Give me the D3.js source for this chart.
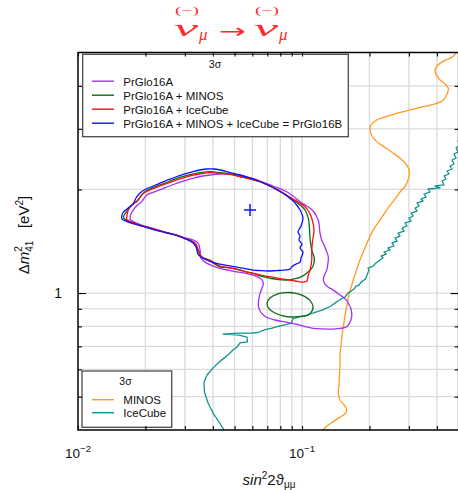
<!DOCTYPE html>
<html><head><meta charset="utf-8">
<script src="https://cdn.jsdelivr.net/npm/d3@7"></script>
<style>body{margin:0;background:#fff}svg{display:block}</style>
</head><body>
<svg id="c" width="458" height="490"></svg>
<script>
// ---------- data ----------
const xGridValues = [0.02,0.03,0.04,0.05,0.06,0.07,0.08,0.09,0.1,0.2,0.3,0.4];
const yGridValues = [0.5,0.6,0.7,0.8,0.9,1,2,3,4];
const xTickLabels = [{v:0.01, base:"10", exp:"−2"},{v:0.1, base:"10", exp:"−1"}];
const yTickLabels = [{v:1, text:"1"}];
const bestFit = [0.0586, 1.743];

const prGlo16A = [[0.01707,1.649],[0.01724,1.697],[0.01766,1.743],[0.01834,1.796],[0.01924,1.843],[0.02026,1.927],[0.02140,1.959],[0.02323,1.993],[0.02522,2.040],[0.02759,2.084],[0.03004,2.123],[0.03272,2.155],[0.03505,2.181],[0.03884,2.203],[0.04305,2.218],[0.04770,2.214],[0.05195,2.203],[0.05861,2.160],[0.06495,2.116],[0.07197,2.061],[0.07814,2.020],[0.08546,1.970],[0.09117,1.914],[0.09797,1.843],[0.1031,1.803],[0.1086,1.763],[0.1131,1.720],[0.1163,1.667],[0.1185,1.619],[0.1195,1.559],[0.1203,1.494],[0.1224,1.426],[0.1254,1.379],[0.1280,1.334],[0.1310,1.275],[0.1306,1.222],[0.1289,1.166],[0.1260,1.128],[0.1245,1.091],[0.1267,1.062],[0.1306,1.041],[0.1379,1.020],[0.1478,0.987],[0.1572,0.957],[0.1610,0.933],[0.1655,0.899],[0.1667,0.853],[0.1638,0.824],[0.1584,0.798],[0.1478,0.789],[0.1379,0.786],[0.1241,0.787],[0.1120,0.790],[0.1021,0.800],[0.09307,0.813],[0.08397,0.824],[0.07577,0.835],[0.06907,0.852],[0.06609,0.873],[0.06427,0.901],[0.06382,0.933],[0.06427,0.967],[0.06495,0.998],[0.06630,1.034],[0.06719,1.067],[0.06630,1.091],[0.06495,1.104],[0.06062,1.128],[0.05566,1.143],[0.05111,1.153],[0.04673,1.166],[0.04305,1.180],[0.03965,1.202],[0.03690,1.230],[0.03541,1.264],[0.03505,1.334],[0.03445,1.395],[0.03272,1.426],[0.03004,1.447],[0.02759,1.474],[0.02446,1.504],[0.02169,1.542],[0.01951,1.571],[0.01766,1.612],[0.01707,1.638]];

const prGlo16AMinos = [[0.01596,1.664],[0.01609,1.686],[0.01655,1.731],[0.01707,1.782],[0.01778,1.827],[0.01858,1.864],[0.01911,1.914],[0.01991,1.970],[0.02140,2.020],[0.02323,2.061],[0.02522,2.102],[0.02759,2.155],[0.03004,2.189],[0.03272,2.218],[0.03505,2.237],[0.03884,2.252],[0.04305,2.237],[0.04770,2.218],[0.05287,2.181],[0.05861,2.145],[0.06495,2.106],[0.07197,2.047],[0.07838,1.993],[0.08483,1.927],[0.09146,1.864],[0.09797,1.803],[0.1031,1.743],[0.1067,1.649],[0.1078,1.559],[0.1086,1.442],[0.1105,1.334],[0.1135,1.261],[0.1116,1.192],[0.1050,1.141],[0.09797,1.111],[0.09146,1.098],[0.08546,1.091],[0.07838,1.094],[0.07197,1.104],[0.06495,1.121],[0.06062,1.141],[0.05566,1.155],[0.05111,1.174],[0.04673,1.186],[0.04305,1.192],[0.03884,1.239],[0.03567,1.273],[0.03445,1.325],[0.03364,1.379],[0.03272,1.407],[0.03004,1.440],[0.02759,1.472],[0.02446,1.502],[0.02169,1.532],[0.01951,1.564],[0.01766,1.598],[0.01655,1.624],[0.01604,1.647]];

const prGlo16AMinosIsland = [[0.06980,0.935],[0.07197,0.967],[0.07735,0.993],[0.08397,1.003],[0.09307,1.000],[0.1021,0.980],[0.1086,0.951],[0.1120,0.917],[0.1108,0.887],[0.1064,0.863],[0.09797,0.855],[0.08932,0.852],[0.08141,0.860],[0.07499,0.878],[0.07125,0.901]];

const prGlo16AIceCube = [[0.01650,1.660],[0.01677,1.743],[0.01742,1.803],[0.01828,1.843],[0.01891,1.901],[0.01957,1.949],[0.02096,1.993],[0.02323,2.047],[0.02522,2.087],[0.02759,2.131],[0.03004,2.167],[0.03272,2.203],[0.03505,2.218],[0.03884,2.237],[0.04305,2.228],[0.04770,2.211],[0.05287,2.178],[0.05861,2.145],[0.06495,2.106],[0.07197,2.047],[0.07838,1.993],[0.08397,1.940],[0.08995,1.885],[0.09696,1.833],[0.1031,1.782],[0.1075,1.720],[0.1105,1.649],[0.1131,1.524],[0.1116,1.426],[0.1105,1.334],[0.1105,1.247],[0.1086,1.166],[0.1064,1.121],[0.1053,1.084],[0.1000,1.076],[0.09307,1.084],[0.08570,1.094],[0.07977,1.102],[0.07445,1.111],[0.06698,1.124],[0.06062,1.141],[0.05566,1.155],[0.05111,1.172],[0.04673,1.186],[0.04305,1.198],[0.03884,1.247],[0.03567,1.275],[0.03445,1.334],[0.03364,1.388],[0.03272,1.410],[0.03004,1.440],[0.02759,1.474],[0.02446,1.504],[0.02169,1.535],[0.01951,1.566],[0.01766,1.601],[0.01650,1.638]];

const prGlo16B = [[0.01567,1.667],[0.01588,1.714],[0.01655,1.755],[0.01760,1.815],[0.01815,1.889],[0.01891,1.953],[0.01991,2.000],[0.02140,2.040],[0.02323,2.087],[0.02522,2.131],[0.02767,2.181],[0.03004,2.218],[0.03262,2.255],[0.03505,2.278],[0.03767,2.293],[0.04047,2.293],[0.04305,2.278],[0.04770,2.240],[0.05287,2.203],[0.05861,2.160],[0.06495,2.109],[0.07197,2.047],[0.07735,1.993],[0.08310,1.940],[0.08842,1.883],[0.09307,1.827],[0.09797,1.743],[0.1010,1.652],[0.09897,1.566],[0.09597,1.504],[0.09797,1.464],[0.09696,1.426],[0.1000,1.388],[0.09797,1.352],[0.1010,1.316],[0.09897,1.264],[0.09797,1.230],[0.09402,1.214],[0.09025,1.194],[0.08842,1.174],[0.08310,1.166],[0.07655,1.162],[0.07052,1.159],[0.06495,1.162],[0.06044,1.166],[0.05566,1.178],[0.05126,1.190],[0.04673,1.202],[0.04305,1.214],[0.03965,1.230],[0.03690,1.255],[0.03541,1.273],[0.03434,1.298],[0.03364,1.361],[0.03262,1.398],[0.03067,1.431],[0.02767,1.469],[0.02446,1.499],[0.02162,1.530],[0.01951,1.561],[0.01760,1.592],[0.01638,1.619],[0.01572,1.641]];

const minos = [[0.5076,5.224],[0.4957,5.086],[0.4722,4.864],[0.4394,4.757],[0.4132,4.653],[0.3966,4.539],[0.3925,4.398],[0.4007,4.274],[0.4132,4.161],[0.4349,4.051],[0.4500,3.936],[0.4440,3.789],[0.4274,3.640],[0.3925,3.543],[0.3479,3.479],[0.3035,3.404],[0.2647,3.330],[0.2347,3.248],[0.2155,3.184],[0.2032,3.078],[0.2012,2.977],[0.2054,2.860],[0.2155,2.754],[0.2347,2.648],[0.2556,2.548],[0.2767,2.452],[0.2934,2.355],[0.3004,2.278],[0.3013,2.203],[0.2958,2.116],[0.2883,2.037],[0.2781,1.993],[0.2647,1.905],[0.2421,1.766],[0.2229,1.630],[0.2075,1.524],[0.1977,1.426],[0.1892,1.334],[0.1815,1.247],[0.1751,1.166],[0.1694,1.091],[0.1626,0.998],[0.1588,0.923],[0.1556,0.863],[0.1529,0.798],[0.1509,0.755],[0.1493,0.706],[0.1478,0.661],[0.1478,0.625],[0.1470,0.578],[0.1463,0.540],[0.1452,0.511],[0.1478,0.489],[0.1540,0.473],[0.1584,0.457],[0.1556,0.446],[0.1478,0.436],[0.1379,0.423],[0.1293,0.411],[0.1241,0.400],[0.1216,0.389]];

const iceCube = [[0.04578,0.389],[0.04486,0.400],[0.04261,0.422],[0.04007,0.448],[0.03806,0.479],[0.03670,0.515],[0.03652,0.551],[0.03767,0.578],[0.03965,0.601],[0.04217,0.626],[0.04486,0.647],[0.04721,0.665],[0.04920,0.683],[0.05126,0.697],[0.05287,0.716],[0.05711,0.721],[0.05682,0.745],[0.05233,0.755],[0.04440,0.760],[0.05179,0.765],[0.05982,0.765],[0.06363,0.768],[0.06838,0.783],[0.07345,0.791],[0.07894,0.802],[0.08483,0.810],[0.08978,0.818],[0.09117,0.843],[0.09949,0.855],[0.1053,0.863],[0.1120,0.875],[0.1179,0.884],[0.1229,0.892],[0.1293,0.905],[0.1348,0.917],[0.1404,0.935],[0.1448,0.948],[0.1493,0.961],[0.1556,0.974],[0.1605,1.000],[0.1655,1.013],[0.1707,1.027],[0.1742,1.048],[0.1797,1.055],[0.1834,1.076],[0.1892,1.091],[0.1931,1.106],[0.1951,1.128],[0.1991,1.166],[0.1970,1.182],[0.2075,1.198],[0.2140,1.222],[0.2229,1.247],[0.2299,1.264],[0.2252,1.281],[0.2371,1.298],[0.2323,1.316],[0.2471,1.334],[0.2421,1.352],[0.2575,1.370],[0.2522,1.398],[0.2656,1.416],[0.2601,1.445],[0.2738,1.464],[0.2683,1.494],[0.2853,1.514],[0.2796,1.545],[0.2943,1.566],[0.2883,1.598],[0.3067,1.619],[0.3004,1.652],[0.3130,1.675],[0.3067,1.708],[0.3262,1.731],[0.3196,1.766],[0.3329,1.790],[0.3262,1.827],[0.3469,1.851],[0.3398,1.876],[0.3578,1.901],[0.3504,1.940],[0.3727,1.966],[0.3652,2.006],[0.4132,2.020],[0.3925,2.047],[0.4305,2.061],[0.4217,2.116],[0.4394,2.145],[0.4305,2.189],[0.4532,2.218],[0.4440,2.263],[0.4672,2.293],[0.4579,2.340],[0.4770,2.371],[0.4672,2.436],[0.4871,2.469],[0.4770,2.536],[0.4972,2.570],[0.4871,2.639],[0.5076,2.693],[0.4972,2.766],[0.5179,2.822]];

const legendMainTitle = "3σ";
const legendMainLabels = ["PrGlo16A","PrGlo16A + MINOS","PrGlo16A + IceCube","PrGlo16A + MINOS + IceCube = PrGlo16B"];
const legendExpTitle = "3σ";
const legendExpLabels = ["MINOS","IceCube"];

// ---------- styles ----------
const C = {purple:"#a230f5", green:"#0a6b14", red:"#ff1010", blue:"#1010ff", orange:"#ff9a1e", teal:"#139191", title:"#ff2a2a"};
const legendMainColors = [C.purple, C.green, C.red, C.blue];
const legendExpColors = [C.orange, C.teal];
const SANS = "'Liberation Sans', Arial, 'DejaVu Sans', sans-serif";
const SERIF = "'Liberation Serif', 'DejaVu Serif', serif";

// ---------- scales ----------
const L = 78, R = 458.6, T = 52.5, B = 430;
const x = d3.scaleLog().domain([0.01, 0.5]).range([L, R]);
const y = d3.scaleLog().domain([0.4, 5]).range([B, T]);

const svg = d3.select("#c");
svg.append("defs").append("clipPath").attr("id","clip")
  .append("rect").attr("x",L).attr("y",T).attr("width",R-L).attr("height",B-T);

// grid
const grid = svg.append("g").attr("stroke","#dadada").attr("stroke-width",1.3);
grid.selectAll("line.vx").data(xGridValues).join("line")
  .attr("x1",d=>x(d)).attr("x2",d=>x(d)).attr("y1",T).attr("y2",B);
grid.selectAll("line.hy").data(yGridValues).join("line")
  .attr("x1",L).attr("x2",R).attr("y1",d=>y(d)).attr("y2",d=>y(d));

// curves
const plot = svg.append("g").attr("clip-path","url(#clip)").attr("fill","none").attr("stroke-width",1.3).attr("stroke-linejoin","round");
const smoothOpen = d3.line().x(d=>x(d[0])).y(d=>y(d[1])).curve(d3.curveCatmullRom.alpha(0.5));
const closed = d3.line().x(d=>x(d[0])).y(d=>y(d[1])).curve(d3.curveCatmullRomClosed.alpha(0.5));
const jagged = d3.line().x(d=>x(d[0])).y(d=>y(d[1])).curve(d3.curveLinear);

plot.append("path").attr("d",smoothOpen(minos)).attr("stroke",C.orange);
plot.append("path").attr("d",jagged(iceCube)).attr("stroke",C.teal);
plot.append("path").attr("d",closed(prGlo16A)).attr("stroke",C.purple);
plot.append("path").attr("d",closed(prGlo16AMinos)).attr("stroke",C.green);
plot.append("path").attr("d",closed(prGlo16AMinosIsland)).attr("stroke",C.green);
plot.append("path").attr("d",closed(prGlo16AIceCube)).attr("stroke",C.red);
plot.append("path").attr("d",closed(prGlo16B)).attr("stroke",C.blue);

// best-fit cross
const bx = x(bestFit[0]), by = y(bestFit[1]);
plot.append("path").attr("d",`M${bx-6},${by}H${bx+6}M${bx},${by-6}V${by+6}`).attr("stroke",C.blue).attr("stroke-width",1.5);

// legends
function legend(g, box, title, labels, colors, titleX, titleY, rowY){
  g.append("rect").attr("x",box[0]).attr("y",box[1]).attr("width",box[2]).attr("height",box[3])
    .attr("fill","#fff").attr("stroke","#4a4a4a").attr("stroke-width",1.3);
  g.append("text").attr("x",titleX).attr("y",titleY).attr("text-anchor","middle")
    .attr("font-family",SANS).attr("font-size",10.5).attr("fill","#111").text(title);
  labels.forEach((lab,i)=>{
    const yy = rowY[0] + i*rowY[1];
    g.append("line").attr("x1",92).attr("x2",114).attr("y1",yy-4.3).attr("y2",yy-4.3)
      .attr("stroke",colors[i]).attr("stroke-width",1.4);
    g.append("text").attr("x",123.3).attr("y",yy).attr("font-family",SANS).attr("font-size",11.5)
      .attr("fill","#111").text(lab);
  });
}
legend(svg.append("g"), [82.7,54.3,265.6,82.4], legendMainTitle, legendMainLabels, legendMainColors, 215, 68, [85.5, 14]);
legend(svg.append("g"), [82,371,89.7,56.3], legendExpTitle, legendExpLabels, legendExpColors, 125.5, 385, [404, 13]);

// axes (ticks)
const axG = svg.append("g").attr("class","axes");
const xAll = [0.01].concat(xGridValues);
axG.append("g").attr("transform",`translate(0,${B})`)
  .call(d3.axisBottom(x).tickValues(xAll).tickSizeInner(-4).tickSizeOuter(0).tickFormat(""));
axG.append("g").attr("transform",`translate(0,${T})`)
  .call(d3.axisTop(x).tickValues(xAll).tickSizeInner(-4).tickSizeOuter(0).tickFormat(""));
axG.append("g").attr("transform",`translate(${L},0)`)
  .call(d3.axisLeft(y).tickValues(yGridValues).tickSizeInner(-4).tickSizeOuter(0).tickFormat(""));
axG.append("g").attr("transform",`translate(${R},0)`)
  .call(d3.axisRight(y).tickValues(yGridValues).tickSizeInner(-4).tickSizeOuter(0).tickFormat(""));
axG.selectAll(".domain").remove();
axG.selectAll(".tick line").attr("stroke","#000").attr("stroke-width",1.1);
axG.selectAll("g.tick").filter(d=>d===1).select("line").each(function(){
  const ln = d3.select(this);
  const x2 = +ln.attr("x2");
  if (x2) ln.attr("x2", x2*2);
});
svg.append("rect").attr("x",L).attr("y",T).attr("width",R-L).attr("height",B-T)
  .attr("fill","none").attr("stroke","#000").attr("stroke-width",1.5);

// tick labels
xTickLabels.forEach(t=>{
  const tx = svg.append("text").attr("x",x(t.v)).attr("y",458).attr("text-anchor","middle")
    .attr("font-family",SANS).attr("font-size",13.5).attr("fill","#111");
  tx.append("tspan").text(t.base);
  tx.append("tspan").attr("dy",-6).attr("font-size",9.5).text(t.exp);
});
yTickLabels.forEach(t=>{
  svg.append("text").attr("x",62).attr("y",y(t.v)+5).attr("text-anchor","end")
    .attr("font-family",SANS).attr("font-size",14).attr("fill","#111").text(t.text);
});

// x axis title
const xt = svg.append("text").attr("x",269).attr("y",485).attr("text-anchor","middle")
  .attr("font-family",SANS).attr("font-size",15).attr("fill","#111");
xt.append("tspan").attr("font-style","italic").text("sin");
xt.append("tspan").attr("dy",-6).attr("font-size",10).text("2");
xt.append("tspan").attr("dy",6).text("2ϑ");
xt.append("tspan").attr("dy",3).attr("font-size",10).text("μμ");

// y axis title
const yt = svg.append("text").attr("transform","translate(28.5,235) rotate(-90)").attr("text-anchor","middle")
  .attr("font-family",SANS).attr("font-size",15).attr("fill","#111");
yt.append("tspan").text("Δ");
yt.append("tspan").attr("font-style","italic").text("m");
yt.append("tspan").attr("dy",-7).attr("font-size",10).text("2");
yt.append("tspan").attr("dx",-5.6).attr("dy",11).attr("font-size",10).text("41");
yt.append("tspan").attr("dy",-4).text("\u00a0\u00a0\u00a0[eV");
yt.append("tspan").attr("dy",-6).attr("font-size",10).text("2");
yt.append("tspan").attr("dy",6).text("]");

// title: (−) over ν_μ → (−) over ν_μ
const tg = svg.append("g").attr("fill",C.title).attr("font-family",SERIF);
function nuPiece(x0){
  tg.append("text").attr("x",x0+1).attr("y",13.5).attr("font-size",10)
    .attr("textLength",24).attr("lengthAdjust","spacingAndGlyphs").text("(−)");
  tg.append("text").attr("x",x0).attr("y",35.5).attr("font-size",22.5).attr("font-style","italic")
    .attr("textLength",24).attr("lengthAdjust","spacingAndGlyphs").text("ν");
  tg.append("text").attr("x",x0+25).attr("y",39.5).attr("font-size",17).attr("font-style","italic").text("μ");
}
nuPiece(174);
tg.append("text").attr("x",219).attr("y",38).attr("font-family","'DejaVu Sans', sans-serif").attr("font-size",20)
  .attr("textLength",27).attr("lengthAdjust","spacingAndGlyphs").text("→");
nuPiece(254);
</script>
</body></html>
